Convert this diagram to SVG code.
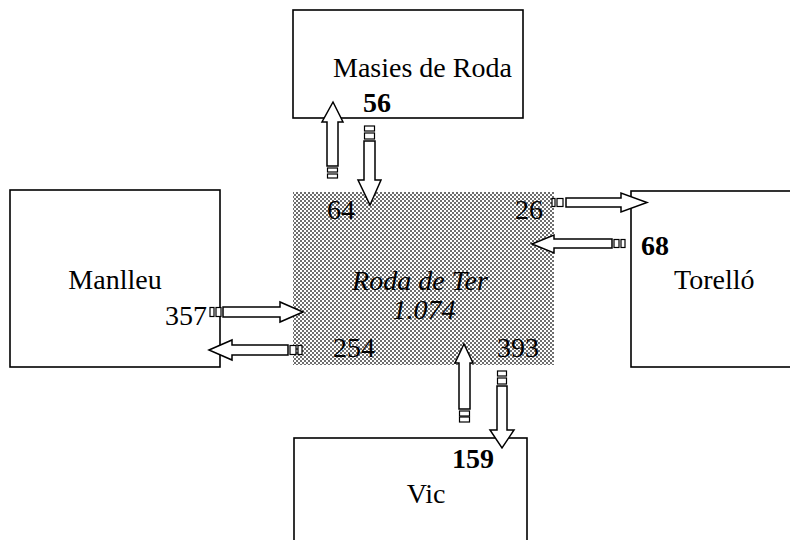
<svg xmlns="http://www.w3.org/2000/svg" width="790" height="540" viewBox="0 0 790 540">
<defs>
<pattern id="dots" width="4" height="4" patternUnits="userSpaceOnUse">
<rect width="4" height="4" fill="#ffffff"/>
<rect x="0" y="0" width="2" height="2" fill="#6e6e6e"/>
<rect x="2" y="2" width="2" height="2" fill="#6e6e6e"/>
</pattern>
<style>
.box{fill:#fff;stroke:#000;stroke-width:1.6}
.t{font-family:"Liberation Serif","Times New Roman",serif;font-size:28px;fill:#000}
.b{font-weight:bold}
.i{font-style:italic}
.ar{fill:#fff;stroke:#000;stroke-width:1.5;stroke-linejoin:miter}
.st{fill:#fff;stroke:#000;stroke-width:1.2}
</style>
</defs>
<rect width="790" height="540" fill="#fff"/>

<g id="roda">
<rect x="293" y="192" width="261" height="173" fill="url(#dots)"/>
<text class="t i" x="420" y="290" text-anchor="middle">Roda de Ter</text>
<text class="t i" x="424" y="319" text-anchor="middle" font-size="22">1.074</text>
</g>

<g id="masies">
<rect class="box" x="293" y="10" width="230" height="108"/>
<text class="t" x="333" y="77">Masies de Roda</text>
</g>

<g id="manlleu">
<rect class="box" x="10" y="190" width="210" height="177"/>
<text class="t" x="115" y="289" text-anchor="middle">Manlleu</text>
</g>

<g id="torello">
<rect class="box" x="631" y="191" width="180" height="176"/>
<text class="t" x="674" y="289">Torelló</text>
</g>

<g id="vic">
<rect class="box" x="294" y="438" width="233" height="120"/>
<text class="t" x="426" y="503" text-anchor="middle">Vic</text>
</g>

<g id="connectors">
<!-- Masies -> Roda (down) -->
<polygon class="ar" points="364,141 375,141 375,180 381,180 370,205 358,180 364,180"/>
<rect class="st" x="364.5" y="126" width="10" height="5"/>
<rect class="st" x="364.5" y="133" width="10" height="6"/>
<!-- Roda -> Masies (up) -->
<polygon class="ar" points="333,102 343,122 338,122 338,166 327,166 327,122 322,122"/>
<rect class="st" x="327.5" y="168" width="10" height="4"/>
<rect class="st" x="327.5" y="174" width="10" height="4"/>
<!-- Roda -> Torello (right) -->
<polygon class="ar" points="566,198 621,198 621,193 647,202.5 621,212 621,207 566,207"/>
<rect class="st" x="552" y="198.5" width="3" height="8"/>
<rect class="st" x="557" y="198.5" width="6" height="8"/>
<!-- Torello -> Roda (left) -->
<polygon class="ar" points="532,244 554,235 554,239 612,239 612,248 554,248 554,253"/>
<rect class="st" x="614" y="239.5" width="5" height="8"/>
<rect class="st" x="621" y="239.5" width="4" height="8"/>
<!-- Manlleu -> Roda (right) -->
<polygon class="ar" points="223,307 280,307 280,302 303,312 280,322 280,317 223,317"/>
<rect class="st" x="210" y="307.5" width="4" height="9"/>
<rect class="st" x="216" y="307.5" width="5" height="9"/>
<!-- Roda -> Manlleu (left) -->
<polygon class="ar" points="209,350 232,340 232,345 288,345 288,355 232,355 232,360"/>
<rect class="st" x="290" y="345.5" width="6" height="9"/>
<rect class="st" x="298" y="345.5" width="4" height="9"/>
<!-- Vic -> Roda (up) -->
<polygon class="ar" points="464,344 473,363 470,363 470,409 459,409 459,363 455,363"/>
<rect class="st" x="459.5" y="411" width="10" height="5"/>
<rect class="st" x="459.5" y="417" width="10" height="5"/>
<!-- Roda -> Vic (down) -->
<polygon class="ar" points="497,386 507,386 507,430 514,430 502,448 490,430 497,430"/>
<rect class="st" x="497.5" y="371" width="9" height="5"/>
<rect class="st" x="497.5" y="378" width="9" height="6"/>
</g>

<g id="labels">
<text class="t b" x="363" y="112">56</text>
<text class="t" x="327" y="219">64</text>
<text class="t" x="515" y="219">26</text>
<text class="t b" x="641" y="255">68</text>
<text class="t" x="165" y="325">357</text>
<text class="t" x="333" y="357">254</text>
<text class="t" x="497" y="357">393</text>
<text class="t b" x="452" y="468">159</text>
</g>
</svg>
